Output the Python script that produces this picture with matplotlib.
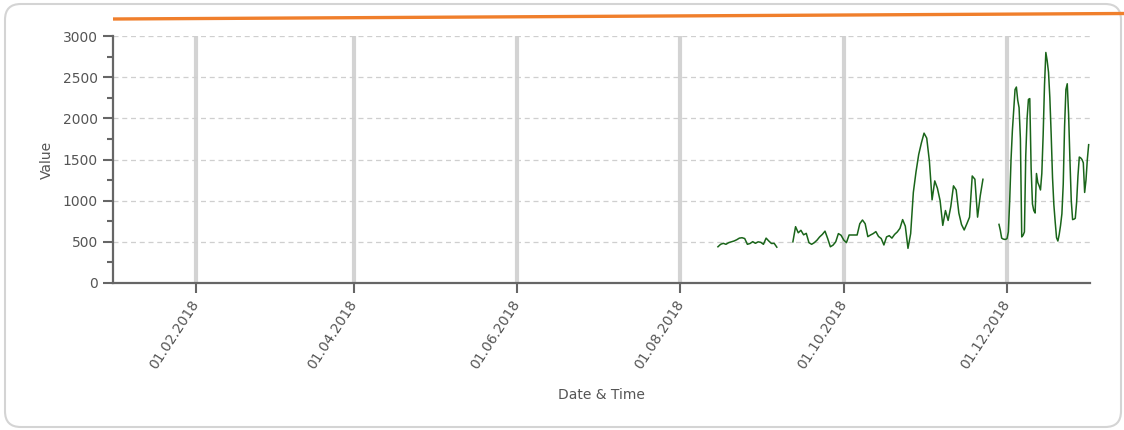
import matplotlib
matplotlib.use("Agg")
import matplotlib.pyplot as plt
from matplotlib.patches import FancyBboxPatch
from matplotlib.lines import Line2D
from matplotlib.ticker import MultipleLocator
import pandas as pd

# --- data -------------------------------------------------------------
# three recording periods, each sampled at a fixed interval
seg1_start, seg1_freq = "2018-08-15", "1D"
seg1_values = [440, 470, 482, 470, 490, 500, 510, 525, 545, 550, 540, 470,
               480, 502, 482, 500, 494, 470, 545, 510, 480, 482, 435]

seg2_start, seg2_freq = "2018-09-12", "1D"
seg2_values = [500, 684, 610, 640, 585, 603, 490, 470, 490, 520, 560, 590,
               630, 540, 440, 460, 500, 600, 580, 522, 490, 583, 583, 583,
               583, 720, 765, 720, 563, 583, 600, 624, 565, 540, 462, 560,
               575, 545, 590, 620, 664, 770, 690, 421, 600, 1100, 1350, 1560,
               1700, 1820, 1760, 1480, 1010, 1240, 1150, 1000, 700, 880, 760,
               930, 1180, 1130, 850, 710, 644, 720, 800, 1300, 1260, 800,
               1060, 1260]

seg3_start, seg3_freq = "2018-11-28", "12h"
seg3_values = [712, 640, 545, 535, 530, 530, 540, 620, 1000, 1500, 1850, 2100,
               2350, 2380, 2220, 2130, 1750, 560, 580, 620, 1550, 2000, 2230,
               2240, 1400, 960, 880, 850, 1330, 1220, 1180, 1130, 1330, 1800,
               2400, 2800, 2700, 2560, 2250, 1800, 1280, 950, 740, 550, 510,
               590, 700, 840, 1200, 1900, 2350, 2420, 2050, 1500, 1000, 770,
               775, 786, 980, 1300, 1530, 1520, 1500, 1460, 1100, 1250, 1500,
               1680]

segments = [(seg1_start, seg1_freq, seg1_values),
            (seg2_start, seg2_freq, seg2_values),
            (seg3_start, seg3_freq, seg3_values)]

x_ticks = ["2018-02-01", "2018-04-01", "2018-06-01",
           "2018-08-01", "2018-10-01", "2018-12-01"]
y_ticks = [0, 500, 1000, 1500, 2000, 2500, 3000]

# --- figure -----------------------------------------------------------
W, H = 1124, 430
fig = plt.figure(figsize=(W / 100, H / 100), dpi=100)
fig.patch.set_facecolor("white")

# rounded panel frame
frame = FancyBboxPatch((5 / W, 3 / H), 1116 / W, 423 / H,
                       boxstyle="round,pad=0,rounding_size=0.014",
                       transform=fig.transFigure, facecolor="none",
                       edgecolor="#d4d4d4", linewidth=1.5, zorder=-1,
                       mutation_aspect=W / H)
fig.add_artist(frame)

# orange accent line at the top
fig.add_artist(Line2D([113 / W, 1124 / W], [1 - 19 / H, 1 - 13.5 / H],
                      transform=fig.transFigure, color="#f07f2c",
                      linewidth=2.4, solid_capstyle="butt"))

ax = fig.add_axes([113 / W, 1 - 283 / H, (1090 - 113) / W, (283 - 36) / H])
ax.set_facecolor("none")

axis_col = "#666666"
text_col = "#555555"
fs = 10

for start, freq, vals in segments:
    t = pd.date_range(start, periods=len(vals), freq=freq)
    ax.plot(t, vals, color="#1a651a", linewidth=1.1, zorder=3)

ax.set_xlim(pd.Timestamp("2018-01-01"), pd.Timestamp("2019-01-01"))
ax.set_ylim(0, 3000)

# axes styling
for side in ("top", "right"):
    ax.spines[side].set_visible(False)
for side in ("left", "bottom"):
    ax.spines[side].set_color(axis_col)
    ax.spines[side].set_linewidth(1.6)

ax.set_yticks(y_ticks)
ax.yaxis.set_minor_locator(MultipleLocator(250))
tick_dates = pd.to_datetime(x_ticks)
ax.set_xticks(tick_dates)
ax.set_xticklabels([d.strftime("%d.%m.%Y") for d in tick_dates],
                   rotation=57, ha="right", va="center",
                   rotation_mode="anchor")

ax.tick_params(axis="y", which="major", length=7, width=1.5,
               color=axis_col, labelcolor=text_col, labelsize=fs, pad=4)
ax.tick_params(axis="y", which="minor", length=4.5, width=1.5,
               color=axis_col)
ax.tick_params(axis="x", which="major", length=7, width=1.5,
               color=axis_col, labelcolor=text_col, labelsize=fs, pad=6)

# grids: dashed horizontal, thick solid vertical
ax.grid(axis="y", which="major", linestyle=(0, (4, 3)), color="#cfcfcf",
        linewidth=0.9, zorder=1)
ax.grid(axis="x", which="major", linestyle="-", color="#d3d3d3",
        linewidth=3.0, zorder=1)
ax.set_axisbelow(True)

ax.set_ylabel("Value", color=text_col, fontsize=fs, labelpad=6)
ax.set_xlabel("Date & Time", color=text_col, fontsize=fs, labelpad=12)

fig.savefig("out.png", dpi=100, facecolor="white")
